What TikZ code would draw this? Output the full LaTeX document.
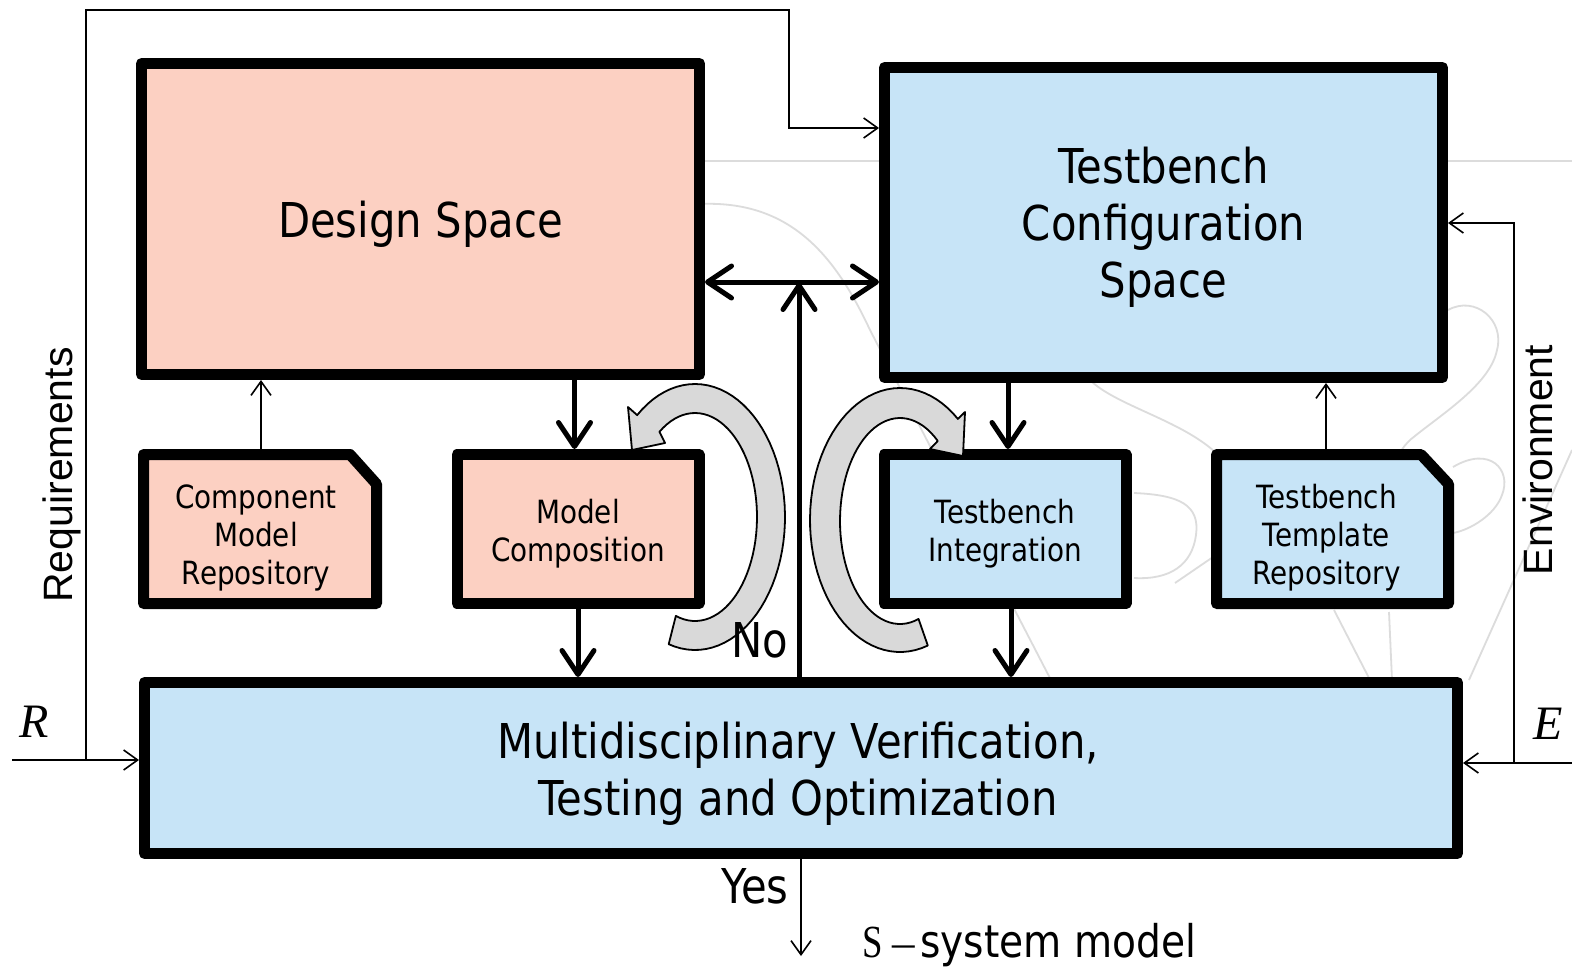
\documentclass[tikz,border=0pt]{standalone}
\usepackage{fontspec}
\usepackage{graphicx}
\setmainfont{DejaVu Sans}[FakeStretch=0.87]
\newfontfamily\tah{DejaVu Sans}[FakeStretch=0.87]
\newfontfamily\arialf{Liberation Sans}
\newfontfamily\timesf{Liberation Serif}
\usetikzlibrary{arrows.meta}
\definecolor{salmon}{RGB}{252,208,194}
\definecolor{skyb}{RGB}{199,228,247}
\definecolor{loopgray}{RGB}{217,217,217}
\definecolor{wm}{RGB}{220,220,220}
\begin{document}
\begin{tikzpicture}[x=1pt,y=-1pt,
  box/.style={draw=black, line width=11pt, line join=round, inner sep=0pt},
  bigtxt/.style={font=\tah\fontsize{48}{57}\selectfont, align=center, inner sep=0pt},
  smalltxt/.style={font=\tah\fontsize{32}{38}\selectfont, align=center, inner sep=0pt},
  thickarr/.style={line width=5pt, -{Straight Barb[length=24pt,width=32pt,round]}},
  dblarr/.style={line width=5pt, {Straight Barb[length=24pt,width=32pt,round]}-{Straight Barb[length=24pt,width=32pt,round]}},
  thinarr/.style={line width=1.6pt, -{Straight Barb[length=14pt,width=20pt]}},
  wmline/.style={draw=wm, line width=1.8pt},
  loopar/.style={fill=loopgray, draw=black, line width=1.8pt, line join=round},
  lbl/.style={font=\tah\fontsize{48}{48}\selectfont, inner sep=0pt}
]
\useasboundingbox (0,0) rectangle (1572,975);
\fill[white] (0,0) rectangle (1572,975);
% faint watermark
\draw[wmline] (700,161) -- (1572,161);
\draw[wmline] (700,204) .. controls (790,200) and (835,255) .. (870,330) -- (1052,682);
\draw[wmline] (1090,380) .. controls (1115,405) and (1180,420) .. (1215,452);
\draw[wmline] (1448,310) .. controls (1475,295) and (1505,320) .. (1497,350) .. controls (1490,385) and (1440,415) .. (1410,440) .. controls (1402,448) and (1399,453) .. (1399,460);
\draw[wmline] (1453,467) .. controls (1490,445) and (1512,470) .. (1502,495) .. controls (1495,515) and (1470,530) .. (1453,533);
\draw[wmline] (1134,493) .. controls (1180,495) and (1200,505) .. (1196,535) .. controls (1192,565) and (1170,580) .. (1134,578);
\draw[wmline] (1175,583) -- (1213,557);
\draw[wmline] (1334,610) -- (1370,680);
\draw[wmline] (1389,612) -- (1392,680);
\draw[wmline] (1572,450) -- (1469,680);
% main boxes
\node[box, fill=salmon, minimum width=558pt, minimum height=311pt] (ds) at (420.5,219) {};
\node[bigtxt] (dst) at ([yshift=-5pt]ds.center) {Design Space};
\node[box, fill=skyb, minimum width=558pt, minimum height=310pt] (tcs) at (1163.5,222.5) {};
\node[bigtxt] (tcst) at ([yshift=-5pt]tcs.center) {Testbench\\Configuration\\Space};
\node[box, fill=salmon, minimum width=242pt, minimum height=149pt] (mc) at (578,529) {};
\node[smalltxt] (mct) at ([yshift=-5pt]mc.center) {Model\\Composition};
\node[box, fill=skyb, minimum width=242pt, minimum height=149pt] (ti) at (1005,529) {};
\node[smalltxt] (tit) at ([yshift=-5pt]ti.center) {Testbench\\Integration};
\draw[line width=11pt, line join=round, fill=salmon] (143.5,454.5) -- (350,454.5) -- (376.5,484) -- (376.5,603.5) -- (143.5,603.5) -- cycle;
\node[inner sep=0pt, minimum width=233pt, minimum height=149pt] (cmr) at (260,529) {};
\node[smalltxt] (cmrt) at ([xshift=-4pt,yshift=-9pt]cmr.center) {Component\\Model\\Repository};
\draw[line width=11pt, line join=round, fill=skyb] (1216.5,454.5) -- (1421,454.5) -- (1448.5,484) -- (1448.5,603.5) -- (1216.5,603.5) -- cycle;
\node[inner sep=0pt, minimum width=232pt, minimum height=149pt] (ttr) at (1332.5,529) {};
\node[smalltxt] (ttrt) at ([xshift=-6pt,yshift=-9pt]ttr.center) {Testbench\\Template\\Repository};
\node[box, fill=skyb, minimum width=1313pt, minimum height=171pt] (multi) at (801,768) {};
\node[bigtxt] (multit) at ([xshift=-3pt,yshift=-6pt]multi.center) {Multidisciplinary Verification,\\Testing and Optimization};
% thick connectors
\draw[thickarr] ([xshift=-3.5pt]mc.north |- ds.south) -- ([xshift=-3.5pt]mc.north);
\draw[thickarr] (mc.south) -- (mc.south |- multi.north);
\draw[thickarr] ([xshift=3pt]ti.north |- tcs.south) -- ([xshift=3pt]ti.north);
\draw[thickarr] ([xshift=6pt]ti.south) -- ([xshift=6pt]ti.south |- multi.north);
\coordinate (hy) at (799,282);
\draw[dblarr] (ds.east |- hy) -- (tcs.west |- hy);
\draw[thickarr] (multi.north -| hy) -- ([yshift=-1pt]hy);
% thin connectors
\draw[thinarr] ([xshift=1pt]cmr.north) -- ([xshift=1pt]cmr.north |- ds.south);
\draw[thinarr] ([xshift=-6.5pt]ttr.north) -- ([xshift=-6.5pt]ttr.north |- tcs.south);
\coordinate (rin) at (12,760);
\coordinate (rv) at (86,760);
\coordinate (rtop) at (789,10);
\coordinate (rt) at (789,128);
\draw[thinarr] (rin) -- (multi.west |- rin);
\draw[thinarr] (rv) -- (rv |- rtop) -- (rtop) -- (rt) -- (tcs.west |- rt);
\coordinate (ein) at (1572,763);
\coordinate (ev) at (1514,763);
\coordinate (et) at (1514,223);
\draw[thinarr] (ein) -- (multi.east |- ein);
\draw[thinarr] (ev) -- (et) -- (tcs.east |- et);
\coordinate (sout) at (801,956);
\draw[thinarr] (multi.south) -- (sout);
% gray loop arrows
\draw[loopar] plot[domain=107:-130, samples=60] ({695+90*cos(\x)},{517+133*sin(\x)}) -- (628,407) -- (632,450) -- (665,443) -- plot[domain=-125:108, samples=60] ({695+62*cos(\x)},{517+104*sin(\x)}) -- cycle;
\draw[loopar] plot[domain=72:310, samples=60] ({900+90*cos(\x)},{520+132*sin(\x)}) -- (965,412) -- (963,456) -- (930,449) -- plot[domain=309:72, samples=60] ({900+60*cos(\x)},{521+103*sin(\x)}) -- cycle;
% labels
\node[lbl, anchor=base] (no) at (760,657) {No};
\node[lbl, anchor=base] (yes) at (755,903) {Yes};
\node[inner sep=0pt, anchor=base west, font=\tah\fontsize{45}{45}\selectfont] (sm) at (862,957) {{\timesf\fontsize{46}{46}\selectfont\scalebox{0.8}[1]{S}}\hspace{10pt}{\timesf –}\hspace{5pt}system model};
\node[rotate=90, anchor=base, inner sep=0pt, font=\arialf\fontsize{41}{41}\selectfont] (req) at (72,475) {Requirements};
\node[rotate=90, anchor=base, inner sep=0pt, font=\arialf\fontsize{41}{41}\selectfont] (env) at (1552,460) {Environment};
\node[anchor=base, inner sep=0pt, font=\timesf\itshape\fontsize{48}{48}\selectfont] (rl) at (34,737) {R};
\node[anchor=base, inner sep=0pt, font=\timesf\itshape\fontsize{48}{48}\selectfont] (el) at (1548,739) {E};
\end{tikzpicture}
\end{document}
